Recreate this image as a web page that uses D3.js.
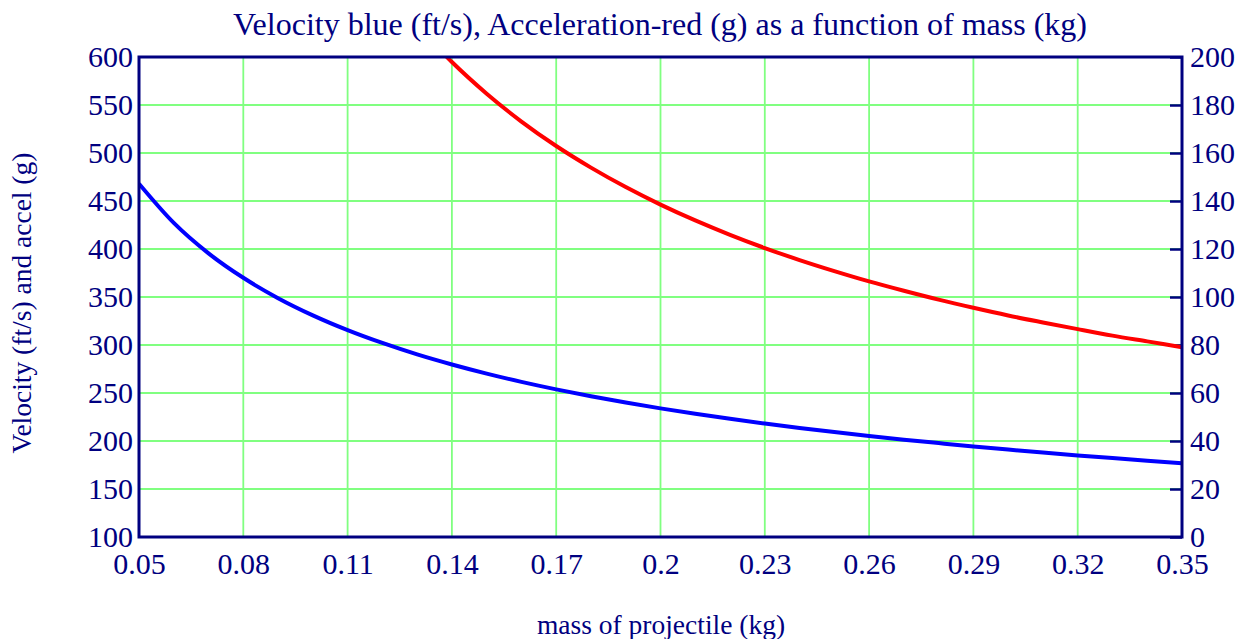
<!DOCTYPE html>
<html><head><meta charset="utf-8">
<script src="https://cdn.jsdelivr.net/npm/d3@7"></script>
<style>body{margin:0;background:#fff}svg{display:block}</style>
</head><body>
<svg id="c" width="1237" height="639"></svg>
<script>
const mass = [0.05,0.06,0.07,0.08,0.09,0.10,0.11,0.12,0.13,0.14,0.15,0.16,0.17,0.18,0.19,0.20,0.21,0.22,0.23,0.24,0.25,0.26,0.27,0.28,0.29,0.30,0.31,0.32,0.33,0.34,0.35];
const velocity = [468,427.2,395.5,370.0,348.8,330.9,315.5,302.1,290.2,279.7,270.2,261.6,253.8,246.7,240.1,234.0,228.4,223.1,218.2,213.6,209.3,205.2,201.4,197.8,194.3,191.1,187.9,185.0,182.2,179.5,176.9];
const accelMass = [0.13,0.14,0.15,0.16,0.17,0.18,0.19,0.20,0.21,0.22,0.23,0.24,0.25,0.26,0.27,0.28,0.29,0.30,0.31,0.32,0.33,0.34,0.35];
const accel = [213.1,197.9,184.7,173.1,162.9,153.9,145.8,138.5,131.9,125.9,120.4,115.4,110.8,106.5,102.6,98.9,95.5,92.3,89.4,86.6,83.9,81.5,79.1];
const xTicks = [0.05,0.08,0.11,0.14,0.17,0.2,0.23,0.26,0.29,0.32,0.35];
const yLeftTicks = [100,150,200,250,300,350,400,450,500,550,600];
const yRightTicks = [0,20,40,60,80,100,120,140,160,180,200];
const title = "Velocity blue (ft/s), Acceleration-red (g) as a function of mass (kg)";
const xLabel = "mass of projectile (kg)";
const yLabel = "Velocity (ft/s) and accel (g)";

const L=139, R=1182, T=57, B=537;
const navy="#000080", font="'Liberation Serif', 'Times New Roman', serif";
const svg=d3.select("#c");
const x=d3.scaleLinear().domain([0.05,0.35]).range([L,R]);
const yl=d3.scaleLinear().domain([100,600]).range([B,T]);
const yr=d3.scaleLinear().domain([0,200]).range([B,T]);

svg.append("defs").append("clipPath").attr("id","clip").append("rect")
  .attr("x",L).attr("y",T).attr("width",R-L).attr("height",B-T);

// grid
const g=svg.append("g");
g.selectAll("line.v").data(xTicks.slice(1,-1)).join("line")
  .attr("x1",d=>x(d)).attr("x2",d=>x(d)).attr("y1",T).attr("y2",B)
  .attr("stroke","#80ff80").attr("stroke-width",1.8);
g.selectAll("line.h").data(yLeftTicks.slice(1,-1)).join("line")
  .attr("x1",L).attr("x2",R).attr("y1",d=>yl(d)).attr("y2",d=>yl(d))
  .attr("stroke","#80ff80").attr("stroke-width",1.8);

// right ticks
svg.append("g").attr("transform",`translate(${R},0)`)
  .call(d3.axisRight(yr).tickValues(yRightTicks).tickSize(-12).tickFormat(d=>d))
  .call(a=>{a.select(".domain").remove();
    a.selectAll("line").attr("stroke",navy).attr("stroke-width",2.5);
    a.selectAll("text").attr("x",8).attr("fill",navy).style("font-family",font).style("font-size","30px");});

// left axis labels
svg.append("g").attr("transform",`translate(${L},0)`)
  .call(d3.axisLeft(yl).tickValues(yLeftTicks).tickSize(0).tickPadding(6).tickFormat(d=>d))
  .call(a=>{a.select(".domain").remove();
    a.selectAll("text").attr("fill",navy).style("font-family",font).style("font-size","30px");});

// bottom labels
svg.append("g").attr("transform",`translate(0,${B})`)
  .call(d3.axisBottom(x).tickValues(xTicks).tickSize(0).tickPadding(16).tickFormat(d=>d3.format("")(+d.toFixed(2))))
  .call(a=>{a.select(".domain").remove();
    a.selectAll("text").attr("fill",navy).style("font-family",font).style("font-size","30px");});

// curves
const cg=svg.append("g").attr("clip-path","url(#clip)");
cg.append("path").datum(mass.map((m,i)=>[m,velocity[i]]))
  .attr("d",d3.line().x(d=>x(d[0])).y(d=>yl(d[1])).curve(d3.curveMonotoneX))
  .attr("fill","none").attr("stroke","#0000ff").attr("stroke-width",4);
cg.append("path").datum(accelMass.map((m,i)=>[m,accel[i]]))
  .attr("d",d3.line().x(d=>x(d[0])).y(d=>yr(d[1])).curve(d3.curveMonotoneX))
  .attr("fill","none").attr("stroke","#ff0000").attr("stroke-width",4);

// frame
svg.append("rect").attr("x",L).attr("y",T).attr("width",R-L).attr("height",B-T)
  .attr("fill","none").attr("stroke",navy).attr("stroke-width",3);

// titles
svg.append("text").attr("x",660).attr("y",35).attr("text-anchor","middle")
  .attr("fill",navy).style("font-family",font).style("font-size","32px").text(title);
svg.append("text").attr("x",661).attr("y",634).attr("text-anchor","middle")
  .attr("fill",navy).style("font-family",font).style("font-size","27.5px").text(xLabel);
svg.append("text").attr("transform","translate(31,303) rotate(-90)").attr("text-anchor","middle")
  .attr("fill",navy).style("font-family",font).style("font-size","27.5px").text(yLabel);
</script>
</body></html>
